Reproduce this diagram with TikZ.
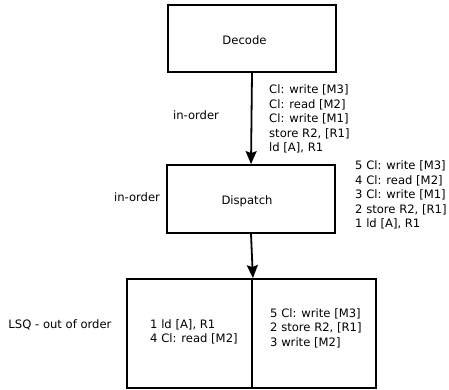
\documentclass[tikz,border=0pt]{standalone}
\usepackage{fontspec}
\setmainfont{DejaVu Sans}
\usepackage{tikz}
\usetikzlibrary{positioning}
\usetikzlibrary{arrows.meta}
\usetikzlibrary{calc}

\begin{document}
\begin{tikzpicture}
  [x=1pt, y=-1pt, font=\fontsize{11.6}{14.6}\selectfont,
  stage/.style={rectangle,draw=black,line width=1.8pt,inner sep=0pt},
  note/.style={align=left,inner sep=0pt,anchor=west},
  flow/.style={-{Stealth[length=13pt,width=11pt,inset=2pt]},line width=1.8pt}]
  \useasboundingbox (0,0) rectangle (449,389);

  \node[stage,minimum width=168pt,minimum height=67pt,label={[xshift=-7.5pt,yshift=-2pt]center:Decode}] (decode) at (252,38.5) {};
  \node[stage,minimum width=168pt,minimum height=68pt,label={[xshift=-4pt,yshift=-2.5pt]center:Dispatch}] (dispatch) at (251,199) {};
  \node[stage,minimum width=125pt,minimum height=109pt] (lsql) at (189.5,333.5) {};
  \node[stage,minimum width=124pt,minimum height=109pt] (lsqr) at (314,333.5) {};

  \node (inorder1) at (196,115) {in-order};
  \node (inorder2) at (137,197) {in-order};
  \node (ooo) at (60,325) {LSQ - out of order};

  \node[note] (dlist) at (269,119) {Cl: write [M3]\\Cl: read [M2]\\Cl: write [M1]\\store R2, [R1]\\ld [A], R1};
  \node[note] (plist) at (355,195) {5 Cl: write [M3]\\4 Cl: read [M2]\\3 Cl: write [M1]\\2 store R2, [R1]\\1 ld [A], R1};
  \node[note] (llist) at (150,332) {1 ld [A], R1\\4 Cl: read [M2]};
  \node[note] (slist) at (270,328) {5 Cl: write [M3]\\2 store R2, [R1]\\3 write [M2]};

  \draw[flow] (decode.south) -- (dispatch.north);
  \draw[flow] (dispatch.south) -- (lsql.north east);
\end{tikzpicture}
\end{document}
